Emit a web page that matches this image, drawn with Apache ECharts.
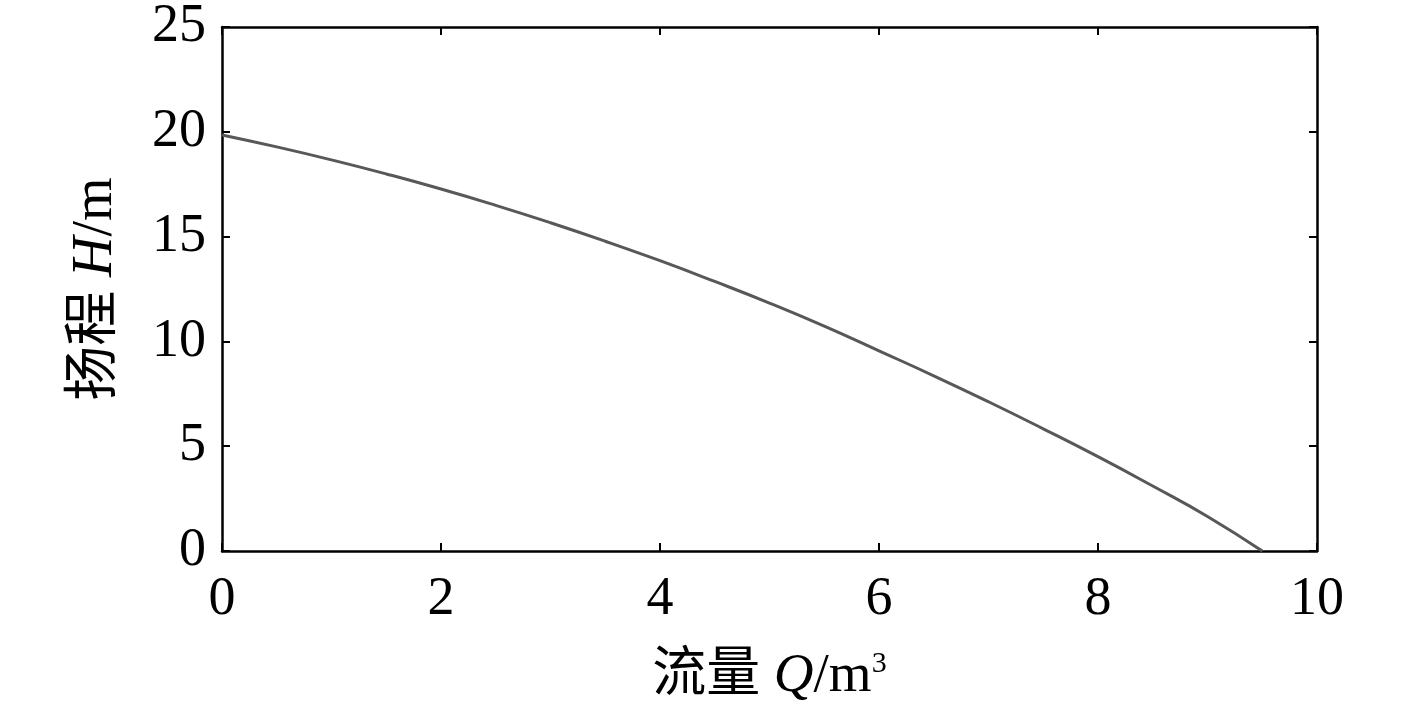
<!DOCTYPE html>
<html>
<head>
<meta charset="utf-8">
<script src="https://cdn.jsdelivr.net/npm/echarts@6/dist/echarts.min.js"></script>
<style>
  html, body { margin: 0; padding: 0; background: #fff; }
  #main { width: 1417px; height: 709px; }
</style>
</head>
<body>
<div id="main"></div>
<script>
// flow Q and head H
var flow = [0, 0.5, 1, 1.5, 2, 2.5, 3, 3.5, 4, 4.5, 5, 5.5, 6, 6.5, 7, 7.5, 8, 8.5, 9, 9.5];
var head = [19.85, 19.28, 18.66, 17.99, 17.27, 16.49, 15.66, 14.78, 13.85, 12.86, 11.83, 10.73, 9.55, 8.36, 7.12, 5.83, 4.5, 3.1, 1.65, 0];
var xTicks = [0, 2, 4, 6, 8, 10];
var yTicks = [0, 5, 10, 15, 20, 25];

var serif = '"Liberation Serif", "Times New Roman", "Noto Sans CJK SC", serif';
var chart = echarts.init(document.getElementById('main'));

var points = flow.map(function (q, i) { return [q, head[i]]; });

function axisBase(ticks) {
  return {
    type: 'value',
    min: ticks[0],
    max: ticks[ticks.length - 1],
    interval: ticks[1] - ticks[0],
    axisLine: { show: true, onZero: false, lineStyle: { color: '#000', width: 2.5 } },
    axisTick: { show: true, inside: true, length: 8, lineStyle: { color: '#000', width: 2 } },
    splitLine: { show: false }
  };
}

var xMain = axisBase(xTicks);
xMain.position = 'bottom';
xMain.axisLabel = { color: '#000', fontSize: 54, fontFamily: serif, margin: 22 };
xMain.name = '{cn|流量 }{it|Q}{n|/m}{sup|3}';
xMain.nameLocation = 'middle';
xMain.nameGap = 98;
xMain.nameTextStyle = {
  color: '#000',
  rich: {
    cn: { fontSize: 54, fontFamily: serif, color: '#000' },
    it: { fontSize: 55, fontFamily: serif, fontStyle: 'italic', color: '#000' },
    n: { fontSize: 55, fontFamily: serif, color: '#000' },
    sup: { fontSize: 30, fontFamily: serif, color: '#000', verticalAlign: 'top', padding: [0, 0, 24, 0] }
  }
};

var xTop = axisBase(xTicks);
xTop.position = 'top';
xTop.axisLabel = { show: false };

var yMain = axisBase(yTicks);
yMain.position = 'left';
yMain.axisLabel = { color: '#000', fontSize: 54, fontFamily: serif, margin: 16 };
yMain.name = '{cn|扬程 }{it|H}{n|/m}';
yMain.nameLocation = 'middle';
yMain.nameGap = 98;
yMain.nameTextStyle = {
  color: '#000',
  rich: {
    cn: { fontSize: 55, fontFamily: serif, color: '#000' },
    it: { fontSize: 56, fontFamily: serif, fontStyle: 'italic', color: '#000' },
    n: { fontSize: 56, fontFamily: serif, color: '#000' }
  }
};

var yRight = axisBase(yTicks);
yRight.position = 'right';
yRight.axisLabel = { show: false };

var option = {
  backgroundColor: '#fff',
  animation: false,
  grid: { left: 222, right: 100, top: 27, bottom: 152, containLabel: false },
  xAxis: [xMain, xTop],
  yAxis: [yMain, yRight],
  series: [{
    type: 'line',
    data: points,
    smooth: true,
    showSymbol: false,
    lineStyle: { color: '#585858', width: 3 }
  }]
};

chart.setOption(option);
</script>
</body>
</html>
